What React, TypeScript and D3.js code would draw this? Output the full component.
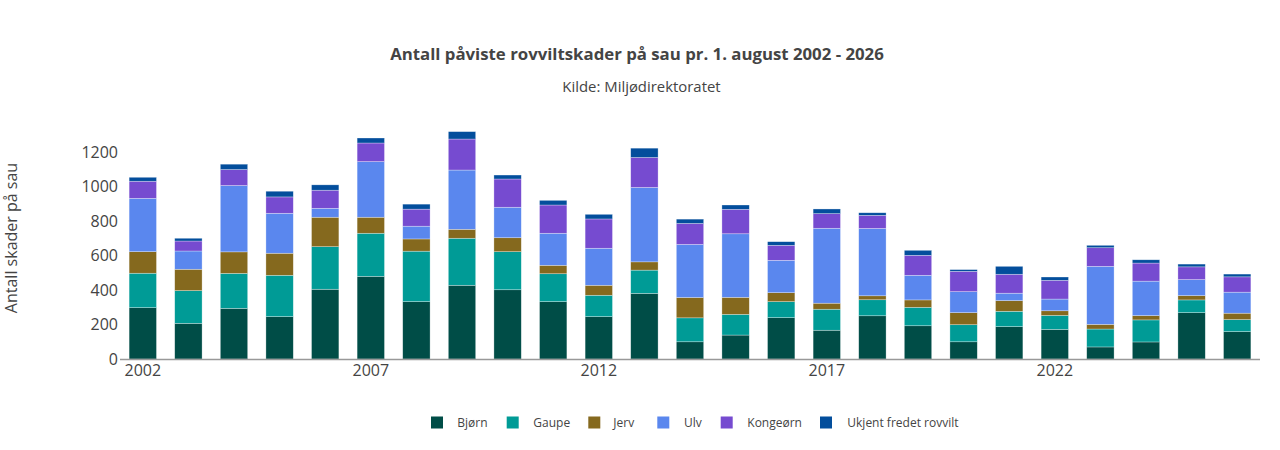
import React from "react";
import * as d3 from "d3";

const years = [2002,2003,2004,2005,2006,2007,2008,2009,2010,2011,2012,2013,2014,2015,2016,2017,2018,2019,2020,2021,2022,2023,2024,2025,2026];
const bjorn = [298,207,294,246,405,480,333,428,402,333,246,381,100,139,240,167,251,193,100,188,172,70,99,269,159];
const gaupe = [200,190,203,240,247,250,293,273,221,162,124,135,139,120,93,122,93,107,99,89,81,104,128,74,70];
const jerv = [125,124,125,128,171,93,71,52,81,49,58,48,118,99,52,35,23,43,70,62,27,27,25,25,37];
const ulv = [310,106,385,232,52,323,74,344,177,186,215,432,308,369,188,435,391,143,122,43,68,337,200,93,122];
const kongeorn = [99,58,93,95,105,108,99,180,164,164,170,174,122,142,87,85,76,116,118,110,109,108,105,74,89];
const ukjent = [23,16,31,33,31,29,29,43,23,27,27,54,25,25,21,27,15,29,10,46,19,14,19,16,16];

const seriesNames = ["Bjørn", "Gaupe", "Jerv", "Ulv", "Kongeørn", "Ukjent fredet rovvilt"];
const seriesColors = ["#004d47", "#009b96", "#85691e", "#5a87ee", "#764bd0", "#034e9c"];
const seriesValues = [bjorn, gaupe, jerv, ulv, kongeorn, ukjent];
const yTicks = [0, 200, 400, 600, 800, 1000, 1200];
const xTickYears = [2002, 2007, 2012, 2017, 2022];

const title = "Antall påviste rovviltskader på sau pr. 1. august 2002 - 2026";
const subtitle = "Kilde: Miljødirektoratet";
const yTitle = "Antall skader på sau";

const W = 1280;
const H = 450;
const FONT = "'Open Sans', sans-serif";

export default function App() {
  const left = 120;
  const right = 1260;
  const base = 359;
  const top1200 = 152.3;

  const x = d3.scaleBand<number>().domain(years).range([left, right]).paddingInner(0.4).paddingOuter(0.2);
  const y = d3.scaleLinear().domain([0, 1200]).range([base, top1200]);

  const rows = years.map((yr, i) => {
    const o: Record<string, number> = { year: yr };
    seriesNames.forEach((n, k) => (o[n] = seriesValues[k][i]));
    return o;
  });
  const stacked = d3.stack<Record<string, number>>().keys(seriesNames)(rows);

  const legendSquareX = [431, 506.7, 588.3, 657.3, 720.7, 820];
  const legendTextX = [457.3, 533.3, 613.3, 684, 747.3, 847.3];

  return (
    <svg
      width={W}
      height={H}
      style={{ display: "block", position: "absolute", left: 0, top: 0, fontFamily: FONT }}
    >
      <rect width={W} height={H} fill="#fff" />
      <text x={637} y={60} textAnchor="middle" fontSize={16.8} fontWeight="bold" fill="#444">{title}</text>
      <text x={641.5} y={92} textAnchor="middle" fontSize={14.9} fill="#444">{subtitle}</text>
      <text transform={`translate(17,238) rotate(-90)`} textAnchor="middle" fontSize={16} fill="#444">{yTitle}</text>

      {stacked.map((layer, k) => (
        <g key={layer.key} fill={seriesColors[k]}>
          {layer.map((d, i) => (
            <rect
              key={i}
              x={x(years[i])!}
              width={x.bandwidth()}
              y={y(d[1])}
              height={Math.max(0, y(d[0]) - y(d[1]))}
              stroke="rgba(255,255,255,0.5)"
              strokeWidth={0.6}
            />
          ))}
        </g>
      ))}

      <line x1={left} x2={right} y1={base + 0.5} y2={base + 0.5} stroke="#999" strokeWidth={1.5} />
      {yTicks.map((t) => (
        <text key={t} x={118} y={y(t)} dy="0.35em" textAnchor="end" fontSize={16} fill="#444">{t}</text>
      ))}
      {xTickYears.map((yr) => (
        <text key={yr} x={x(yr)! + x.bandwidth() / 2} y={376} textAnchor="middle" fontSize={16} fill="#444">{yr}</text>
      ))}

      {seriesNames.map((n, k) => (
        <g key={n}>
          <rect x={legendSquareX[k]} y={416.5} width={12} height={12} fill={seriesColors[k]} />
          <text x={legendTextX[k]} y={422.5} dy="0.35em" fontSize={12} fill="#444">{n}</text>
        </g>
      ))}
    </svg>
  );
}
